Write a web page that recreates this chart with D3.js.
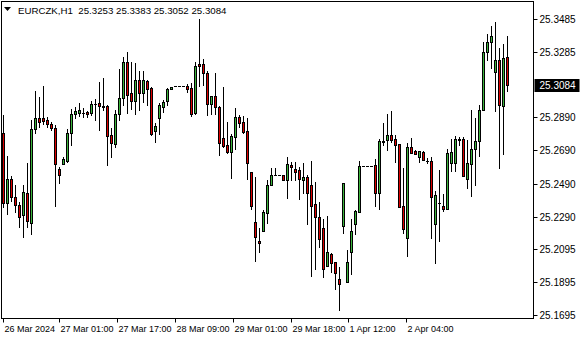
<!DOCTYPE html>
<html lang="en">
<head>
<meta charset="UTF-8">
<title>EURCZK,H1</title>
<script src="https://d3js.org/d3.v7.min.js"></script>
<style>
    body {
        margin: 0;
        background: #fff;
    }
    svg {
        display: block;
        font-family: "Liberation Sans", Arial, sans-serif;
    }
</style>
</head>
<body>
<svg id="chart" width="580" height="340"></svg>
<script>
    // Chart header
    const symbol = "EURCZK,H1";
    const lastBarText = "25.3253 25.3383 25.3052 25.3084";
    const lastPrice = 25.3084;

    // Hourly bars, [open, high, low, close]
    const bars = [
        [25.2794, 25.2904, 25.2349, 25.2374],
        [25.2370, 25.2656, 25.2305, 25.2515],
        [25.2515, 25.2535, 25.2386, 25.2406],
        [25.2406, 25.2481, 25.2317, 25.2361],
        [25.2358, 25.2378, 25.2228, 25.2289],
        [25.2297, 25.2481, 25.2168, 25.2437],
        [25.2431, 25.2612, 25.2228, 25.2261],
        [25.2249, 25.2874, 25.2184, 25.2818],
        [25.2818, 25.3051, 25.2798, 25.2884],
        [25.2884, 25.3013, 25.2829, 25.2864],
        [25.2884, 25.3080, 25.2850, 25.2870],
        [25.2874, 25.2890, 25.2832, 25.2848],
        [25.2850, 25.2862, 25.2813, 25.2824],
        [25.2827, 25.2841, 25.2354, 25.2606],
        [25.2576, 25.2593, 25.2495, 25.2539],
        [25.2610, 25.2653, 25.2610, 25.2636],
        [25.2628, 25.2818, 25.2618, 25.2794],
        [25.2794, 25.2938, 25.2723, 25.2908],
        [25.2908, 25.2950, 25.2889, 25.2928],
        [25.2918, 25.2979, 25.2898, 25.2934],
        [25.2916, 25.2947, 25.2890, 25.2914],
        [25.2922, 25.2931, 25.2895, 25.2908],
        [25.2915, 25.2989, 25.2907, 25.2969],
        [25.2968, 25.3004, 25.2874, 25.2973],
        [25.2975, 25.3106, 25.2813, 25.2960],
        [25.2959, 25.3126, 25.2934, 25.2951],
        [25.2959, 25.2965, 25.2602, 25.2777],
        [25.2781, 25.2826, 25.2652, 25.2733],
        [25.2729, 25.2934, 25.2712, 25.2908],
        [25.2908, 25.3181, 25.2874, 25.3005],
        [25.3005, 25.3253, 25.2965, 25.3223],
        [25.3223, 25.3287, 25.2916, 25.3025],
        [25.3039, 25.3227, 25.2939, 25.2991],
        [25.2991, 25.3217, 25.2910, 25.3116],
        [25.3116, 25.3172, 25.2934, 25.3039],
        [25.3039, 25.3172, 25.2985, 25.3116],
        [25.3110, 25.3116, 25.2965, 25.3063],
        [25.3066, 25.3074, 25.2783, 25.2787],
        [25.2809, 25.2854, 25.2743, 25.2838],
        [25.2884, 25.2979, 25.2789, 25.2963],
        [25.2954, 25.2995, 25.2924, 25.2983],
        [25.2991, 25.3066, 25.2965, 25.3060],
        [25.3060, 25.3072, 25.3060, 25.3072],
        [25.3077, 25.3077, 25.3077, 25.3077],
        [25.3077, 25.3077, 25.3077, 25.3077],
        [25.3077, 25.3077, 25.3077, 25.3077],
        [25.3080, 25.3092, 25.3045, 25.3063],
        [25.3066, 25.3096, 25.2898, 25.2910],
        [25.2918, 25.3227, 25.2910, 25.3201],
        [25.3213, 25.3483, 25.3080, 25.3201],
        [25.3213, 25.3241, 25.3086, 25.3160],
        [25.3160, 25.3172, 25.2904, 25.2971],
        [25.2971, 25.3019, 25.2910, 25.3019],
        [25.3019, 25.3157, 25.2910, 25.2951],
        [25.2953, 25.2960, 25.2662, 25.2737],
        [25.2767, 25.3072, 25.2712, 25.2717],
        [25.2723, 25.2864, 25.2676, 25.2682],
        [25.2682, 25.2789, 25.2525, 25.2777],
        [25.2773, 25.2945, 25.2697, 25.2894],
        [25.2894, 25.2904, 25.2830, 25.2854],
        [25.2862, 25.2898, 25.2797, 25.2803],
        [25.2807, 25.2884, 25.2515, 25.2616],
        [25.2558, 25.2558, 25.2336, 25.2356],
        [25.2257, 25.2531, 25.2023, 25.2168],
        [25.2142, 25.2219, 25.2077, 25.2128],
        [25.2204, 25.2329, 25.2204, 25.2317],
        [25.2310, 25.2511, 25.2253, 25.2481],
        [25.2481, 25.2582, 25.2481, 25.2541],
        [25.2539, 25.2582, 25.2539, 25.2539],
        [25.2539, 25.2539, 25.2539, 25.2539],
        [25.2539, 25.2539, 25.2509, 25.2509],
        [25.2509, 25.2650, 25.2404, 25.2606],
        [25.2602, 25.2620, 25.2509, 25.2588],
        [25.2576, 25.2620, 25.2509, 25.2558],
        [25.2570, 25.2588, 25.2394, 25.2515],
        [25.2509, 25.2612, 25.2431, 25.2529],
        [25.2527, 25.2541, 25.2243, 25.2434],
        [25.2481, 25.2626, 25.1932, 25.2356],
        [25.2366, 25.2499, 25.1973, 25.2289],
        [25.2287, 25.2380, 25.2107, 25.2156],
        [25.2219, 25.2273, 25.1922, 25.1971],
        [25.1993, 25.2295, 25.1993, 25.2074],
        [25.2061, 25.2071, 25.1953, 25.2007],
        [25.2013, 25.2013, 25.1850, 25.1950],
        [25.1912, 25.1983, 25.1724, 25.1880],
        [25.2235, 25.2491, 25.2192, 25.2491],
        [25.1896, 25.2087, 25.1896, 25.2013],
        [25.2077, 25.2273, 25.1940, 25.2202],
        [25.2243, 25.2329, 25.2184, 25.2322],
        [25.2319, 25.2626, 25.2319, 25.2596],
        [25.2596, 25.2596, 25.2596, 25.2596],
        [25.2596, 25.2596, 25.2596, 25.2596],
        [25.2596, 25.2596, 25.2596, 25.2596],
        [25.2600, 25.2638, 25.2354, 25.2431],
        [25.2431, 25.2757, 25.2334, 25.2747],
        [25.2745, 25.2854, 25.2723, 25.2742],
        [25.2755, 25.2910, 25.2692, 25.2783],
        [25.2783, 25.2930, 25.2743, 25.2755],
        [25.2757, 25.2781, 25.2622, 25.2725],
        [25.2729, 25.2729, 25.2349, 25.2349],
        [25.2354, 25.2584, 25.2189, 25.2216],
        [25.2162, 25.2733, 25.2053, 25.2711],
        [25.2711, 25.2767, 25.2676, 25.2676],
        [25.2686, 25.2695, 25.2668, 25.2670],
        [25.2648, 25.2686, 25.2622, 25.2686],
        [25.2680, 25.2689, 25.2630, 25.2630],
        [25.2629, 25.2644, 25.2616, 25.2627],
        [25.2626, 25.2652, 25.2162, 25.2410],
        [25.2243, 25.2444, 25.2007, 25.2420],
        [25.2375, 25.2571, 25.2144, 25.2373],
        [25.2354, 25.2426, 25.2325, 25.2337],
        [25.2334, 25.2700, 25.2334, 25.2672],
        [25.2616, 25.2757, 25.2567, 25.2678],
        [25.2616, 25.2777, 25.2567, 25.2757],
        [25.2757, 25.2773, 25.2723, 25.2756],
        [25.2757, 25.2773, 25.2537, 25.2537],
        [25.2515, 25.2753, 25.2464, 25.2612],
        [25.2606, 25.2934, 25.2416, 25.2697],
        [25.2697, 25.2888, 25.2481, 25.2745],
        [25.2745, 25.2965, 25.2658, 25.2934],
        [25.2933, 25.3348, 25.2933, 25.3284],
        [25.3284, 25.3394, 25.3237, 25.3344],
        [25.3348, 25.3443, 25.3187, 25.3382],
        [25.3163, 25.3467, 25.2930, 25.3235],
        [25.3237, 25.3308, 25.2585, 25.2967],
        [25.2957, 25.3334, 25.2668, 25.3247],
        [25.3253, 25.3383, 25.3052, 25.3084]
    ];

    // Price scale labels (right side)
    const priceTicks = [25.3485, 25.3285, 25.2890, 25.2690, 25.2490, 25.2290, 25.2095, 25.1895, 25.1695];

    // Time labels and the bar they sit on
    const timeLabels = ["26 Mar 2024", "27 Mar 01:00", "27 Mar 17:00", "28 Mar 09:00",
                        "29 Mar 01:00", "29 Mar 18:00", "1 Apr 12:00", "2 Apr 04:00"];
    const timeLabelBars = [0, 14, 28.6, 43, 57.5, 71.9, 86.3, 100.7];

    const upColor = "#3cb43c";
    const downColor = "#dc0000";

    const svg = d3.select("#chart");
    const frame = {left: 1.5, top: 1.5, right: 533.5, bottom: 318.5};

    // Scales: 4 px per bar, price axis pinned to the label range
    const x = d3.scaleLinear()
        .domain([0, bars.length - 1])
        .range([3.5, 3.5 + 4 * (bars.length - 1)]);
    const y = d3.scaleLinear()
        .domain([d3.min(priceTicks), d3.max(priceTicks)])
        .range([315, 19]);
    const py = v => Math.round(y(v)) + 0.5;
    const px = i => Math.round(x(i) - 0.5) + 0.5;

    // Frame
    svg.append("rect")
        .attr("x", frame.left)
        .attr("y", frame.top)
        .attr("width", frame.right - frame.left)
        .attr("height", frame.bottom - frame.top)
        .attr("fill", "none")
        .attr("stroke", "#000");

    // Candles
    const candle = svg.append("g")
        .selectAll("g")
        .data(bars)
        .enter()
        .append("g");

    candle.append("line")
        .attr("x1", (d, i) => px(i))
        .attr("x2", (d, i) => px(i))
        .attr("y1", d => py(d[1]) - 0.5)
        .attr("y2", d => py(d[2]) + 0.5)
        .attr("stroke", "#000");

    candle.filter(d => py(d[0]) !== py(d[3]))
        .append("rect")
        .each(function(d) {
            const i = bars.indexOf(d);
            const yo = py(d[0]), yc = py(d[3]);
            d3.select(this)
                .attr("x", px(i) - 1)
                .attr("y", Math.min(yo, yc))
                .attr("width", 2)
                .attr("height", Math.abs(yo - yc))
                .attr("fill", d[3] > d[0] ? upColor : downColor)
                .attr("stroke", "#000");
        });

    // flat bars (open == close) drawn as a dash
    candle.filter(d => py(d[0]) === py(d[3]))
        .append("line")
        .attr("x1", d => px(bars.indexOf(d)) - 1.5)
        .attr("x2", d => px(bars.indexOf(d)) + 1.5)
        .attr("y1", d => py(d[0]))
        .attr("y2", d => py(d[0]))
        .attr("stroke", "#000");

    // Price axis
    const priceAxis = svg.append("g");
    priceAxis.selectAll("line")
        .data(priceTicks)
        .enter()
        .append("line")
        .attr("x1", frame.right)
        .attr("x2", frame.right + 4)
        .attr("y1", d => py(d))
        .attr("y2", d => py(d))
        .attr("stroke", "#000");
    priceAxis.selectAll("text")
        .data(priceTicks)
        .enter()
        .append("text")
        .attr("x", frame.right + 6)
        .attr("y", d => py(d) + 3.5)
        .attr("font-size", "10px")
        .attr("fill", "#000")
        .text(d => d.toFixed(4));

    // Current price label
    svg.append("rect")
        .attr("x", frame.right + 1)
        .attr("y", py(lastPrice) - 6.5)
        .attr("width", 45)
        .attr("height", 13)
        .attr("fill", "#000");
    svg.append("text")
        .attr("x", frame.right + 6)
        .attr("y", py(lastPrice) + 3.5)
        .attr("font-size", "10px")
        .attr("fill", "#fff")
        .text(lastPrice.toFixed(4));

    // Time axis
    const timeAxis = svg.append("g");
    timeAxis.selectAll("line")
        .data(timeLabelBars)
        .enter()
        .append("line")
        .attr("x1", d => px(d))
        .attr("x2", d => px(d))
        .attr("y1", frame.bottom)
        .attr("y2", frame.bottom + 4)
        .attr("stroke", "#000");
    timeAxis.selectAll("text")
        .data(timeLabelBars)
        .enter()
        .append("text")
        .attr("x", d => px(d) + 1)
        .attr("y", frame.bottom + 13)
        .attr("font-size", "9px")
        .attr("fill", "#000")
        .text((d, i) => timeLabels[i]);

    // Header
    svg.append("path")
        .attr("d", "M4,7 L11,7 L7.5,11 Z")
        .attr("fill", "#000");
    svg.append("text")
        .attr("x", 18)
        .attr("y", 14)
        .attr("font-size", "9.7px")
        .attr("fill", "#000")
        .style("white-space", "pre")
        .text(symbol + "  " + lastBarText);
</script>
</body>
</html>
